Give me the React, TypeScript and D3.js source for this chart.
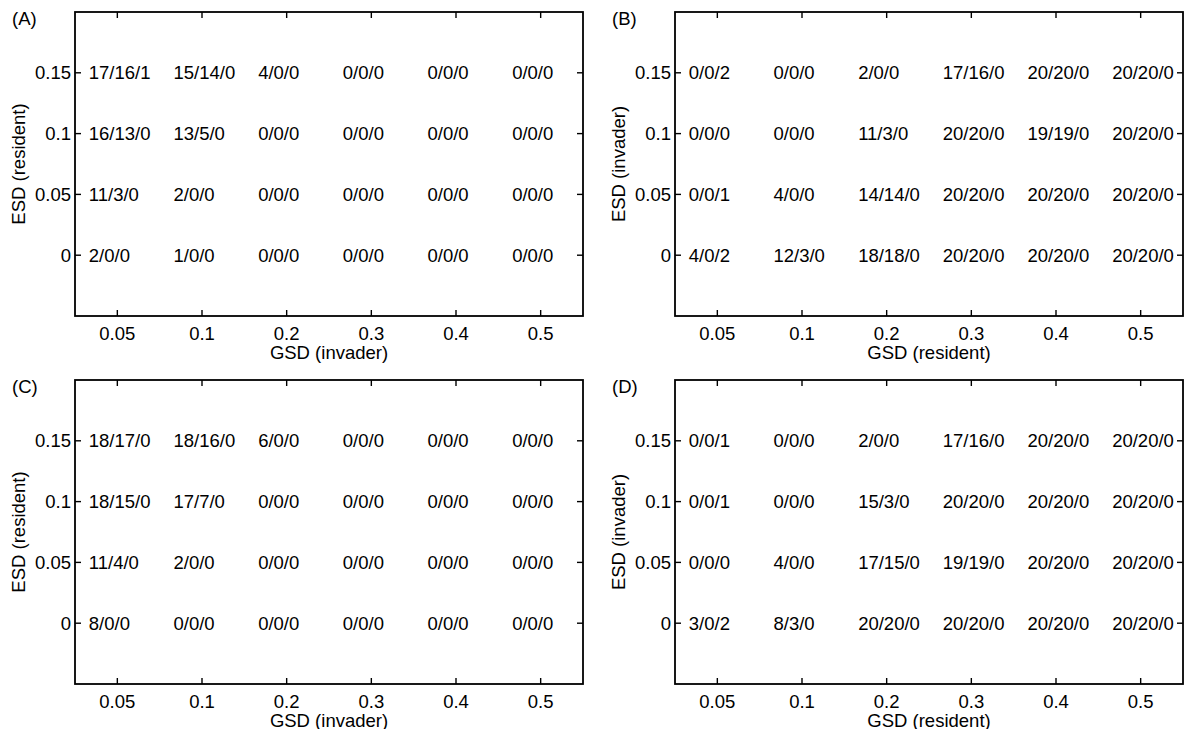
import React from "react";
import * as d3 from "d3";

const xTickLabels = ["0.05", "0.1", "0.2", "0.3", "0.4", "0.5"];
const yTickValues = [0, 0.05, 0.1, 0.15];
const yTickLabels = ["0", "0.05", "0.1", "0.15"];

// rows ordered from ESD = 0.15 down to ESD = 0
const panelA = [
  ["17/16/1", "15/14/0", "4/0/0", "0/0/0", "0/0/0", "0/0/0"],
  ["16/13/0", "13/5/0", "0/0/0", "0/0/0", "0/0/0", "0/0/0"],
  ["11/3/0", "2/0/0", "0/0/0", "0/0/0", "0/0/0", "0/0/0"],
  ["2/0/0", "1/0/0", "0/0/0", "0/0/0", "0/0/0", "0/0/0"],
];
const panelB = [
  ["0/0/2", "0/0/0", "2/0/0", "17/16/0", "20/20/0", "20/20/0"],
  ["0/0/0", "0/0/0", "11/3/0", "20/20/0", "19/19/0", "20/20/0"],
  ["0/0/1", "4/0/0", "14/14/0", "20/20/0", "20/20/0", "20/20/0"],
  ["4/0/2", "12/3/0", "18/18/0", "20/20/0", "20/20/0", "20/20/0"],
];
const panelC = [
  ["18/17/0", "18/16/0", "6/0/0", "0/0/0", "0/0/0", "0/0/0"],
  ["18/15/0", "17/7/0", "0/0/0", "0/0/0", "0/0/0", "0/0/0"],
  ["11/4/0", "2/0/0", "0/0/0", "0/0/0", "0/0/0", "0/0/0"],
  ["8/0/0", "0/0/0", "0/0/0", "0/0/0", "0/0/0", "0/0/0"],
];
const panelD = [
  ["0/0/1", "0/0/0", "2/0/0", "17/16/0", "20/20/0", "20/20/0"],
  ["0/0/1", "0/0/0", "15/3/0", "20/20/0", "20/20/0", "20/20/0"],
  ["0/0/0", "4/0/0", "17/15/0", "19/19/0", "20/20/0", "20/20/0"],
  ["3/0/2", "8/3/0", "20/20/0", "20/20/0", "20/20/0", "20/20/0"],
];
const rowValues = [0.15, 0.1, 0.05, 0];

const panels = [
  { tag: "(A)", data: panelA, xLabel: "GSD (invader)", yLabel: "ESD (resident)", left: 75, top: 12 },
  { tag: "(B)", data: panelB, xLabel: "GSD (resident)", yLabel: "ESD (invader)", left: 675, top: 12 },
  { tag: "(C)", data: panelC, xLabel: "GSD (invader)", yLabel: "ESD (resident)", left: 75, top: 380 },
  { tag: "(D)", data: panelD, xLabel: "GSD (resident)", yLabel: "ESD (invader)", left: 675, top: 380 },
];

const W = 508;
const H = 304;
const FONT = "'Liberation Sans', Arial, Helvetica, sans-serif";
const FS = 18.5;
const TICK = 6;

function Panel({ p }: { p: (typeof panels)[number] }) {
  const x = d3.scaleLinear().domain([0.5, 6.5]).range([0, W]);
  const y = d3.scaleLinear().domain([-0.05, 0.2]).range([H, 0]);
  const xIdx = d3.range(1, 7);
  return (
    <g transform={`translate(${p.left},${p.top})`}>
      <text x={-63} y={6} fontSize={FS} fontFamily={FONT} dominantBaseline="central">
        {p.tag}
      </text>
      {xIdx.map((i) => (
        <g key={"xt" + i}>
          <line x1={x(i)} x2={x(i)} y1={H} y2={H - TICK} stroke="#000" strokeWidth={1.4} />
          <line x1={x(i)} x2={x(i)} y1={0} y2={TICK} stroke="#000" strokeWidth={1.4} />
          <text x={x(i)} y={H + 17} fontSize={FS} fontFamily={FONT} textAnchor="middle" dominantBaseline="central">
            {xTickLabels[i - 1]}
          </text>
        </g>
      ))}
      {yTickValues.map((v, k) => (
        <g key={"yt" + k}>
          <line x1={0} x2={TICK} y1={y(v)} y2={y(v)} stroke="#000" strokeWidth={1.4} />
          <line x1={W} x2={W - TICK} y1={y(v)} y2={y(v)} stroke="#000" strokeWidth={1.4} />
          <text x={-4} y={y(v)} fontSize={FS} fontFamily={FONT} textAnchor="end" dominantBaseline="central">
            {yTickLabels[k]}
          </text>
        </g>
      ))}
      {p.data.map((row, r) =>
        row.map((s, c) => (
          <text
            key={`c${r}-${c}`}
            x={x(c + 1 - 0.337)}
            y={y(rowValues[r])}
            fontSize={FS}
            fontFamily={FONT}
            dominantBaseline="central"
          >
            {s}
          </text>
        ))
      )}
      <rect x={0} y={0} width={W} height={H} fill="none" stroke="#000" strokeWidth={1.8} />
      <text x={W / 2} y={H + 36} fontSize={FS} fontFamily={FONT} textAnchor="middle" dominantBaseline="central">
        {p.xLabel}
      </text>
      <text
        transform={`translate(${-57},${H / 2}) rotate(-90)`}
        fontSize={FS}
        fontFamily={FONT}
        textAnchor="middle"
        dominantBaseline="central"
      >
        {p.yLabel}
      </text>
    </g>
  );
}

export default function App() {
  return (
    <div style={{ position: "fixed", left: 0, top: 0 }}>
      <svg width={1184} height={729} style={{ display: "block", background: "#fff" }}>
        {panels.map((p) => (
          <Panel key={p.tag} p={p} />
        ))}
      </svg>
    </div>
  );
}
